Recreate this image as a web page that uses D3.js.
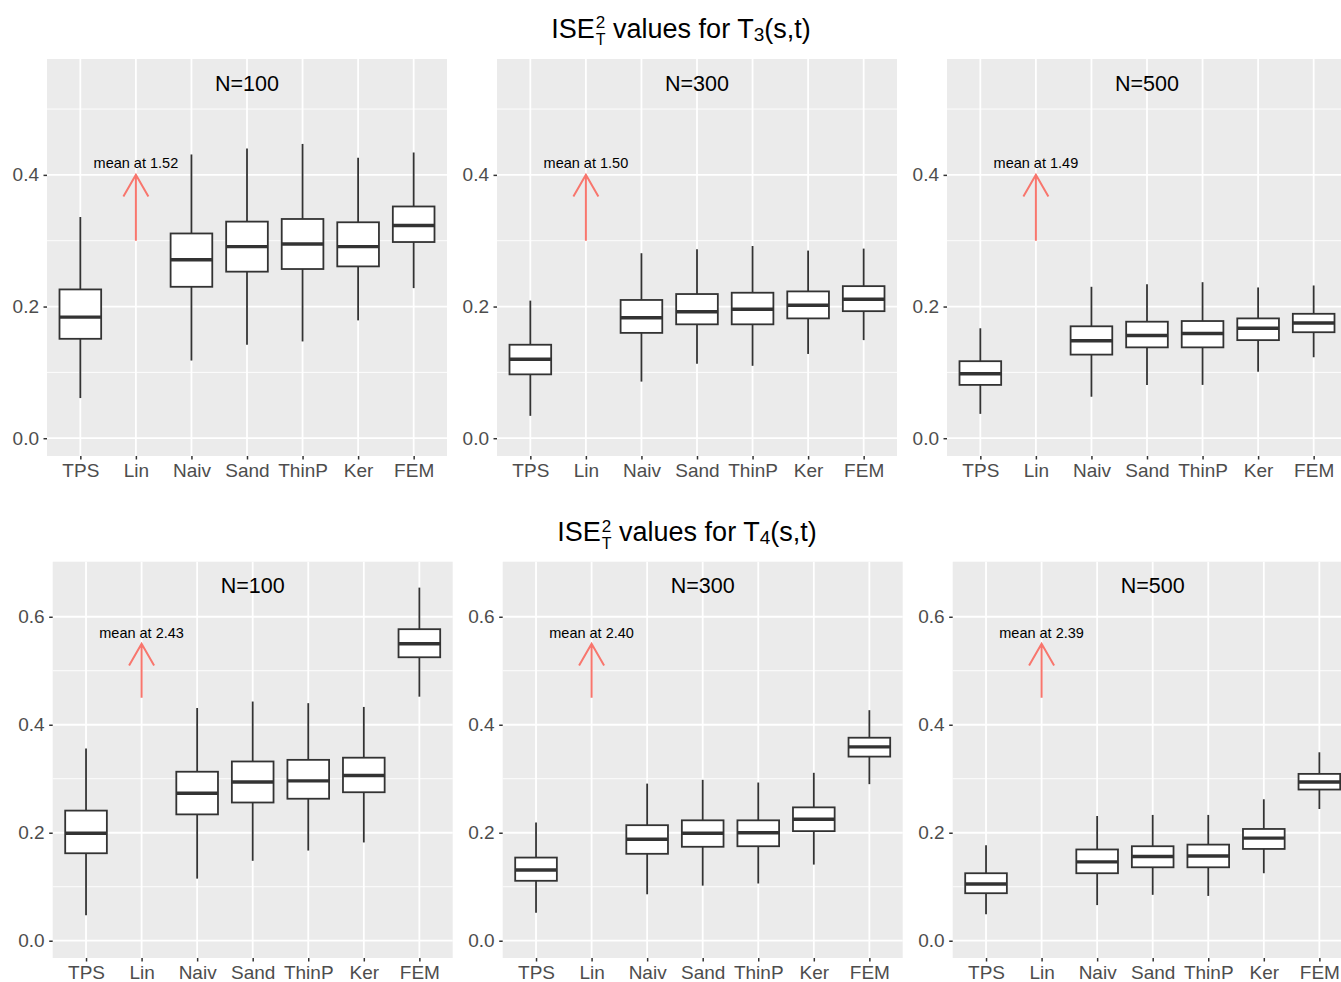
<!DOCTYPE html>
<html>
<head>
<meta charset="utf-8">
<script src="https://cdn.jsdelivr.net/npm/d3@7"></script>
<style>
  body { margin: 0; background: #ffffff; }
  text { font-family: "Liberation Sans", Arial, sans-serif; }
</style>
</head>
<body>
<div id="chart"></div>
<script>
// categories
const methods = ["TPS", "Lin", "Naiv", "Sand", "ThinP", "Ker", "FEM"];
const panelLabels = ["N=100", "N=300", "N=500"];

// box stats per method: [lower whisker, Q1, median, Q3, upper whisker]; Lin has no box
const t3N100 = [
  [0.061, 0.151, 0.184, 0.226, 0.336], null,
  [0.118, 0.230, 0.271, 0.311, 0.431],
  [0.142, 0.253, 0.291, 0.329, 0.440],
  [0.147, 0.257, 0.295, 0.333, 0.447],
  [0.179, 0.261, 0.291, 0.328, 0.426],
  [0.228, 0.298, 0.323, 0.352, 0.434]
];
const t3N300 = [
  [0.034, 0.097, 0.120, 0.142, 0.209], null,
  [0.086, 0.160, 0.183, 0.210, 0.281],
  [0.113, 0.173, 0.192, 0.219, 0.287],
  [0.110, 0.173, 0.196, 0.221, 0.292],
  [0.128, 0.182, 0.202, 0.223, 0.285],
  [0.149, 0.193, 0.211, 0.231, 0.288]
];
const t3N500 = [
  [0.037, 0.081, 0.098, 0.117, 0.167], null,
  [0.063, 0.127, 0.148, 0.170, 0.230],
  [0.081, 0.138, 0.156, 0.177, 0.234],
  [0.081, 0.138, 0.159, 0.178, 0.237],
  [0.101, 0.149, 0.167, 0.182, 0.229],
  [0.123, 0.161, 0.175, 0.189, 0.232]
];
const t4N100 = [
  [0.047, 0.162, 0.199, 0.241, 0.356], null,
  [0.115, 0.234, 0.273, 0.313, 0.431],
  [0.148, 0.256, 0.294, 0.332, 0.443],
  [0.167, 0.263, 0.296, 0.335, 0.440],
  [0.182, 0.275, 0.306, 0.339, 0.433],
  [0.452, 0.525, 0.550, 0.577, 0.654]
];
const t4N300 = [
  [0.052, 0.111, 0.131, 0.154, 0.219], null,
  [0.086, 0.161, 0.188, 0.214, 0.291],
  [0.102, 0.174, 0.199, 0.223, 0.298],
  [0.106, 0.175, 0.200, 0.223, 0.293],
  [0.141, 0.203, 0.225, 0.247, 0.311],
  [0.290, 0.341, 0.359, 0.376, 0.427]
];
const t4N500 = [
  [0.049, 0.088, 0.105, 0.125, 0.177], null,
  [0.066, 0.125, 0.146, 0.169, 0.231],
  [0.085, 0.136, 0.156, 0.175, 0.233],
  [0.083, 0.136, 0.157, 0.178, 0.233],
  [0.125, 0.170, 0.190, 0.207, 0.262],
  [0.244, 0.280, 0.294, 0.309, 0.349]
];

// axis values
const yDomainT3 = [-0.027, 0.576];
const yDomainT4 = [-0.032, 0.702];
const yTicksT3 = [0, 0.2, 0.4];
const yTicksT4 = [0, 0.2, 0.4, 0.6];
const yMinorT3 = [0.1, 0.3, 0.5];
const yMinorT4 = [0.1, 0.3, 0.5];

// Lin annotation: arrow from/to, label y, labels
const arrowT3 = [0.3, 0.4];
const arrowT4 = [0.45, 0.55];
const labelYT3 = 0.41;
const labelYT4 = 0.56;
const meanLabelsT3 = ["mean at 1.52", "mean at 1.50", "mean at 1.49"];
const meanLabelsT4 = ["mean at 2.43", "mean at 2.40", "mean at 2.39"];

const rows = [
  { sub: "3", panels: [t3N100, t3N300, t3N500], domain: yDomainT3, ticks: yTicksT3, minor: yMinorT3,
    arrow: arrowT3, labelY: labelYT3, labels: meanLabelsT3,
    top: 59, bottom: 456, lefts: [47, 497, 947], titleX: 681, titleY: 37.5 },
  { sub: "4", panels: [t4N100, t4N300, t4N500], domain: yDomainT4, ticks: yTicksT4, minor: yMinorT4,
    arrow: arrowT4, labelY: labelYT4, labels: meanLabelsT4,
    top: 561.7, bottom: 958, lefts: [52.7, 502.7, 952.7], titleX: 687, titleY: 541 }
];

const width = 1341;
const height = 982;
const panelW = 400;

const svg = d3.select("#chart").append("svg")
  .attr("width", width)
  .attr("height", height);

rows.forEach((row) => {
  // title: ISE^2_T values for T_k(s,t)
  const title = svg.append("text")
    .attr("x", row.titleX)
    .attr("y", row.titleY)
    .attr("text-anchor", "middle")
    .attr("font-size", 27)
    .attr("fill", "#000");
  title.append("tspan").text("ISE");
  title.append("tspan").attr("dx", 1).attr("dy", -9.5).attr("font-size", 17).text("2");
  title.append("tspan").attr("dx", -9.5).attr("dy", 17).attr("font-size", 16).text("T");
  title.append("tspan").attr("dy", -7.5).text(" values for T");
  title.append("tspan").attr("dy", 3).attr("font-size", 19).text(row.sub);
  title.append("tspan").attr("dy", -3).text("(s,t)");

  row.panels.forEach((stats, i) => {
    const left = row.lefts[i];
    const x = d3.scalePoint()
      .domain(methods)
      .range([left, left + panelW])
      .padding(0.6);
    const y = d3.scaleLinear()
      .domain(row.domain)
      .range([row.bottom, row.top]);
    const g = svg.append("g");

    g.append("rect")
      .attr("x", left)
      .attr("y", row.top)
      .attr("width", panelW)
      .attr("height", row.bottom - row.top)
      .attr("fill", "#EBEBEB");

    g.selectAll(".minor")
      .data(row.minor)
      .enter()
      .append("line")
      .attr("x1", left)
      .attr("x2", left + panelW)
      .attr("y1", (d) => y(d))
      .attr("y2", (d) => y(d))
      .attr("stroke", "#fff")
      .attr("stroke-width", 0.9);

    g.selectAll(".hmajor")
      .data(row.ticks)
      .enter()
      .append("line")
      .attr("x1", left)
      .attr("x2", left + panelW)
      .attr("y1", (d) => y(d))
      .attr("y2", (d) => y(d))
      .attr("stroke", "#fff")
      .attr("stroke-width", 1.8);

    g.selectAll(".vmajor")
      .data(methods)
      .enter()
      .append("line")
      .attr("x1", (d) => x(d))
      .attr("x2", (d) => x(d))
      .attr("y1", row.top)
      .attr("y2", row.bottom)
      .attr("stroke", "#fff")
      .attr("stroke-width", 1.8);

    const boxW = x.step() * 0.75;
    const boxes = methods
      .map((m, j) => ({ m: m, s: stats[j] }))
      .filter((d) => d.s != null);

    const bg = g.selectAll(".box")
      .data(boxes)
      .enter()
      .append("g");

    bg.append("line")
      .attr("x1", (d) => x(d.m))
      .attr("x2", (d) => x(d.m))
      .attr("y1", (d) => y(d.s[4]))
      .attr("y2", (d) => y(d.s[0]))
      .attr("stroke", "#333333")
      .attr("stroke-width", 1.8);

    bg.append("rect")
      .attr("x", (d) => x(d.m) - boxW / 2)
      .attr("width", boxW)
      .attr("y", (d) => y(d.s[3]))
      .attr("height", (d) => y(d.s[1]) - y(d.s[3]))
      .attr("fill", "#fff")
      .attr("stroke", "#333333")
      .attr("stroke-width", 1.8);

    bg.append("line")
      .attr("x1", (d) => x(d.m) - boxW / 2)
      .attr("x2", (d) => x(d.m) + boxW / 2)
      .attr("y1", (d) => y(d.s[2]))
      .attr("y2", (d) => y(d.s[2]))
      .attr("stroke", "#333333")
      .attr("stroke-width", 3.4);

    // arrow for Lin
    const ax = x("Lin");
    const y0 = y(row.arrow[0]);
    const y1 = y(row.arrow[1]);
    const headLen = 25;
    const ang = Math.PI / 6;
    g.append("path")
      .attr("d", `M${ax},${y0}L${ax},${y1}` +
        `M${ax - headLen * Math.sin(ang)},${y1 + headLen * Math.cos(ang)}L${ax},${y1}` +
        `L${ax + headLen * Math.sin(ang)},${y1 + headLen * Math.cos(ang)}`)
      .attr("fill", "none")
      .attr("stroke", "#F8766D")
      .attr("stroke-width", 2);

    g.append("text")
      .attr("x", ax)
      .attr("y", y(row.labelY))
      .attr("text-anchor", "middle")
      .attr("font-size", 14.5)
      .attr("fill", "#000")
      .text(row.labels[i]);

    g.append("text")
      .attr("x", left + panelW / 2)
      .attr("y", row.top + 31.5)
      .attr("text-anchor", "middle")
      .attr("font-size", 21.5)
      .attr("fill", "#000")
      .text(panelLabels[i]);

    const yAxis = d3.axisLeft(y)
      .tickValues(row.ticks)
      .tickFormat(d3.format(".1f"))
      .tickSize(3.5)
      .tickPadding(4.5);
    const xAxis = d3.axisBottom(x)
      .tickSize(3.5)
      .tickPadding(4);

    const ya = g.append("g")
      .attr("transform", `translate(${left},0)`)
      .call(yAxis);
    const xa = g.append("g")
      .attr("transform", `translate(0,${row.bottom})`)
      .call(xAxis);

    [ya, xa].forEach((a) => {
      a.select(".domain").remove();
      a.selectAll(".tick line").attr("stroke", "#333333").attr("stroke-width", 1.5);
      a.selectAll(".tick text")
        .attr("fill", "#4D4D4D")
        .style("font-family", '"Liberation Sans", Arial, sans-serif');
    });
    ya.selectAll(".tick text").attr("font-size", 19);
    xa.selectAll(".tick text").attr("font-size", 19);
  });
});
</script>
</body>
</html>
